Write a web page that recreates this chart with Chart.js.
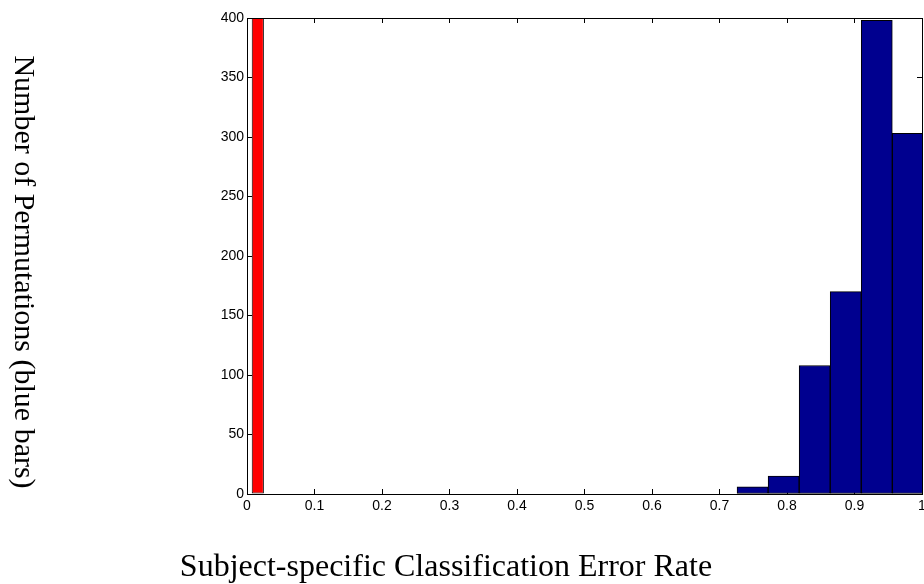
<!DOCTYPE html>
<html>
<head>
<meta charset="utf-8">
<title>Permutation test histogram</title>
<script src="https://cdn.jsdelivr.net/npm/chart.js@4/dist/chart.umd.min.js"></script>
<style>
  html, body { margin: 0; padding: 0; background: #fff; }
</style>
</head>
<body>
<canvas id="hist-chart" width="924" height="584"></canvas>
<script>
// Permutation histogram (blue bars): bin centres and counts
const binCenters = [0.749, 0.795, 0.841, 0.887, 0.933, 0.979];
const binCounts = [6, 15, 108, 170, 398, 303];
const binWidth = 0.046;

// Observed error rate (red bar)
const observedRate = [0.016];
const observedCount = [400];
const observedWidth = 0.018;

// Tick values
const xTicks = [0, 0.1, 0.2, 0.3, 0.4, 0.5, 0.6, 0.7, 0.8, 0.9, 1];
const yTicks = [0, 50, 100, 150, 200, 250, 300, 350, 400];

const xTitle = 'Subject-specific Classification Error Rate';
const yTitle = 'Number of Permutations (blue bars)';

const tickFont = { family: '"Liberation Sans", Arial, Helvetica, sans-serif', size: 14 };
const serif = '"Liberation Serif", "Times New Roman", Times, serif';

// inward tick marks on all four sides, no grid lines
function frameAxis(position, ticks, extra) {
    return Object.assign({
        type: 'linear',
        position: position,
        offset: false,
        afterBuildTicks: scale => { scale.ticks = ticks.map(v => ({ value: v })); },
        grid: { drawOnChartArea: false, tickLength: -5, color: '#000', offset: false },
        border: { display: true, color: '#000', width: 1 },
        ticks: { display: false, font: tickFont, color: '#000' }
    }, extra);
}

// axis labels keep zero padding so the plot box is not shrunk
function noPadding(scale) {
    scale.paddingLeft = 0;
    scale.paddingRight = 0;
    scale.paddingTop = 0;
    scale.paddingBottom = 0;
}

const axisTitles = {
    id: 'axisTitles',
    afterDraw(chart) {
        const c = chart.ctx;
        c.save();
        c.fillStyle = '#000';
        c.textAlign = 'center';
        c.textBaseline = 'alphabetic';
        c.font = '32px ' + serif;
        c.fillText(xTitle, 446, 576);
        c.translate(15, 272);
        c.rotate(Math.PI / 2);
        c.font = '30px ' + serif;
        c.fillText(yTitle, 0, 0);
        c.restore();
    }
};

const ctx = document.getElementById('hist-chart').getContext('2d');
const histChart = new Chart(ctx, {
    type: 'bar',
    data: {
        datasets: [{
            label: 'Permutations',
            data: binCenters.map((x, i) => ({ x: x, y: binCounts[i] })),
            backgroundColor: '#00008f',
            borderColor: '#000',
            borderWidth: 1,
            borderSkipped: false,
            barPercentage: 1,
            categoryPercentage: 1,
            grouped: false
        }, {
            label: 'Observed',
            data: observedRate.map((x, i) => ({ x: x, y: observedCount[i] })),
            backgroundColor: '#ff0000',
            borderColor: '#000',
            borderWidth: 1,
            borderSkipped: false,
            barPercentage: observedWidth / binWidth,
            categoryPercentage: 1,
            grouped: false
        }]
    },
    options: {
        responsive: false,
        animation: false,
        layout: { padding: { top: 18, right: 2, left: 0, bottom: 0 } },
        plugins: { legend: { display: false }, tooltip: { enabled: false } },
        scales: {
            x: frameAxis('bottom', xTicks, {
                min: 0, max: 1,
                ticks: {
                    display: true, font: tickFont, color: '#000', padding: 9,
                    maxRotation: 0, autoSkip: false,
                    callback: v => String(v)
                },
                afterFit: scale => { scale.height = 90; noPadding(scale); }
            }),
            xTop: frameAxis('top', xTicks, {
                min: 0, max: 1,
                afterFit: scale => { scale.height = 0; noPadding(scale); }
            }),
            y: frameAxis('left', yTicks, {
                min: 0, max: 400,
                ticks: { display: true, font: tickFont, color: '#000', padding: 8, autoSkip: false },
                afterFit: scale => { scale.width = 247; noPadding(scale); }
            }),
            yRight: frameAxis('right', yTicks, {
                min: 0, max: 400,
                afterFit: scale => { scale.width = 0; noPadding(scale); }
            })
        }
    },
    plugins: [axisTitles]
});
</script>
</body>
</html>
